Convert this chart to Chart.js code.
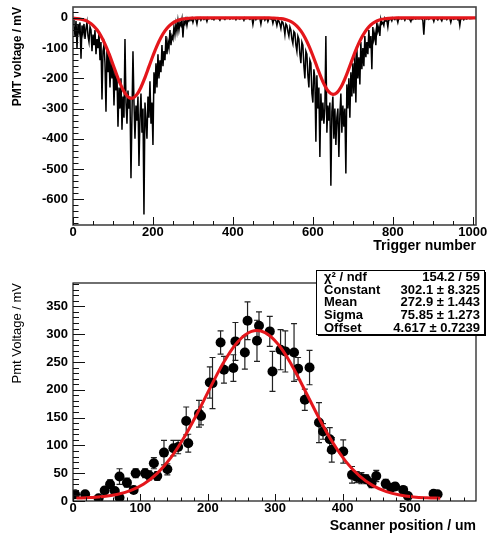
<!DOCTYPE html>
<html>
<head>
<meta charset="utf-8">
<script src="https://cdn.jsdelivr.net/npm/chart.js@4.4.1/dist/chart.umd.min.js"></script>
<style>
  html, body { margin: 0; padding: 0; background: #fff; }
  #wrap { position: relative; width: 488px; height: 535px; }
  canvas { position: absolute; left: 0; }
  #pulse { top: 0; }
  #scan { top: 255px; }
</style>
</head>
<body>
<div id="wrap">
  <canvas id="pulse" width="488" height="255"></canvas>
  <canvas id="scan" width="488" height="280"></canvas>
</div>
<script>
// ---- top panel: PMT voltage per trigger (one sample every 2.5 triggers) ----
const triggerStep = 2.5;
const pmtVoltage = [
  // 0 - 97.5
  -5, -30, -60, -10, -100, -20, -45, -15, -135, -25, -50, -20, -70, -35, -15, -60, -80, -30, -40, -110,
  -55, -90, -40, -120, -70, -100, -50, -140, -80, -270, -110, -90, -150, -310, -100, -180, -120, -230, -140, -200,
  // 100 - 197.5
  -150, -290, -170, -240, -190, -360, -230, -300, -200, -370, -260, -330, -70, -280, -350, -240, -300, -260, -530, -320,
  -110, -280, -400, -290, -340, -260, -490, -330, -250, -380, -300, -650, -280, -340, -400, -260, -330, -210, -350, -280,
  // 200 - 297.5
  -420, -180, -250, -150, -230, -120, -200, -140, -180, -90, -160, -110, -140, -60, -120, -80, -100, -40, -90, -60,
  -70, -30, -55, -20, -45, -10, -40, -15, -25, -5, -65, -10, -20, -5, -25, -3, -10, -2, -8, -1,
  // 300 - 397.5
  -15, -2, 0, -6, -20, -1, -3, 0, -8, -2, 0, -5, -1, -2, -12, 0, -3, -1, 0, -4,
  -1, -6, 0, -2, -1, 0, -3, -8, -1, 0, -2, -1, -5, 0, -2, -1, 0, -4, -1, 0,
  // 400 - 497.5
  -3, 0, -1, -6, 0, -2, -1, -4, 0, -2, -1, -8, 0, -3, -1, 0, -2, -5, -1, 0,
  -22, -2, 0, -6, -1, -3, 0, -2, -20, -1, -3, 0, -8, -2, -1, -12, -3, 0, -4, -2,
  // 500 - 597.5
  -18, -4, -6, -10, -25, -8, -10, -20, -35, -12, -15, -30, -55, -20, -25, -45, -60, -30, -40, -70,
  -85, -45, -50, -90, -110, -60, -70, -120, -150, -80, -90, -160, -200, -110, -120, -190, -230, -140, -150, -250,
  // 600 - 697.5
  -280, -170, -200, -410, -190, -300, -230, -460, -250, -340, -280, -350, -300, -60, -380, -290, -340, -280, -555, -310,
  -260, -400, -300, -420, -330, -300, -460, -320, -250, -380, -290, -360, -300, -515, -220, -300, -200, -330, -180, -260,
  // 700 - 797.5
  -150, -250, -120, -280, -100, -200, -130, -220, -80, -170, -100, -160, -60, -130, -80, -120, -40, -100, -60, -170,
  -30, -70, -50, -90, -15, -45, -30, -60, -5, -20, -15, -25, -2, -10, -8, -30, -3, -6, -2, -10,
  // 800 - 897.5
  0, -3, -6, -1, -2, -15, 0, -3, -1, -4, 0, -2, -8, -1, 0, -3, -2, -6, -12, -1,
  -5, 0, -2, -4, -1, -3, -2, -3, -1, -3, -8, -56, -2, -1, -4, 0, -5, -2, 0, -1,
  // 900 - 997.5
  -2, -12, 0, -1, -3, -7, -1, 0, -4, -10, 0, -2, -3, -1, -6, -1, 0, -2, -15, -1,
  -2, -5, 0, -3, -1, -6, -2, -25, -1, -3, 0, -6, -1, -2, -4, 0, -1, -3, -2, -1,
  // 1000
  -2
];
// double gaussian fit, read every 10 triggers
const fitStep = 10;
const pmtFit = [
  -1.1, -2.2, -4.4, -8.2, -14.6, -24.6, -39.4, -59.9, -86.5, -118.4,
  -154, -190.5, -223.4, -249, -263.6, -265, -253, -229.3, -197.4, -161.3,
  -125.3, -92.3, -64.6, -43, -27.1, -16.3, -9.3, -5, -2.6, -1.3,
  -0.6, 0, 0, 0, 0, 0, 0, 0, 0, 0,
  0, 0, 0, 0, 0, 0, 0, 0, 0, 0,
  -0.5, -1.2, -2.4, -4.8, -9, -16, -27, -42.9, -64.7, -92.5,
  -125.2, -160.6, -195.1, -224.6, -244.9, -253, -247.5, -229.5, -201.5, -167.7,
  -132.2, -98.7, -69.8, -46.8, -29.7, -17.9, -10.2, -5.5, -2.8, -1.4,
  -0.6, 0, 0, 0, 0, 0, 0, 0, 0, 0,
  0, 0, 0, 0, 0, 0, 0, 0, 0, 0,
  0, 0
];
const pulseXTicks = [0, 200, 400, 600, 800, 1000];
const pulseYTicks = [0, -100, -200, -300, -400, -500, -600];

// ---- bottom panel: scan ----
const scanPos = [3, 18, 38, 47, 55, 62, 69, 69, 80, 90, 93, 107, 113, 120, 125, 135, 140, 149, 156, 168,
  171, 187, 190, 203, 207, 219, 224, 238, 241, 255, 259, 273, 276, 292, 296, 308, 315, 328, 334, 344,
  351, 365, 371, 381, 384, 401, 414, 421, 428, 435, 443, 450, 464, 472, 478, 490, 497, 535, 541];
const scanVolt = [12, 12, 5, 19, 30, 18, 44, 6, 33, 20, 50, 50, 46, 68, 45, 87, 57, 95, 97, 144,
  104, 157, 153, 213, 212, 285, 236, 239, 287, 267, 324, 288, 315, 305, 233, 272, 269, 267, 238, 182,
  240, 141, 125, 111, 92, 89, 47, 43, 41, 39, 32, 45, 31, 24, 26, 20, 9, 13, 12];
const scanErr = [4, 4, 4, 6, 8, 6, 14, 4, 8, 6, 8, 8, 8, 10, 8, 22, 10, 14, 12, 25,
  16, 24, 16, 28, 46, 21, 24, 24, 34, 30, 34, 37, 25, 27, 36, 36, 37, 52, 20, 19,
  31, 36, 14, 21, 22, 21, 15, 10, 10, 8, 8, 10, 8, 6, 6, 6, 4, 4, 4];
// gaussian + offset fit, read every 20 um starting at 5 um
const gausStart = 5;
const gausStep = 20;
const gausFit = [5.2, 6.1, 7.9, 11.7, 18.7, 30.7, 49.8, 77.5, 114.5, 159.0, 207.0, 252.1, 287.0, 305.1,
  302.9, 280.9, 243.3, 196.9, 149.2, 106.0, 70.9, 45.1, 27.6, 16.9, 10.7, 7.4, 5.8, 5.1];
const scanXTicks = [0, 100, 200, 300, 400, 500];
const scanYTicks = [0, 50, 100, 150, 200, 250, 300, 350];

const statLabels = ['\u03c7\u00b2 / ndf', 'Constant', 'Mean', 'Sigma', 'Offset'];
const statValues = ['154.2 / 59', '302.1 \u00b1 8.325', '272.9 \u00b1 1.443', '75.85 \u00b1 1.273', '4.617 \u00b1 0.7239'];

const FAMILY = "'Liberation Sans', Arial, Helvetica, sans-serif";
const RED = '#e4161b';

// frame + inward ticks, ROOT style
const rootFrame = {
  id: 'rootFrame',
  afterDatasetsDraw(chart, args, o) {
    const { ctx, chartArea: a, scales: { x, y } } = chart;
    ctx.save();
    ctx.strokeStyle = o.color || '#222';
    ctx.lineWidth = o.width || 1;
    ctx.strokeRect(a.left, a.top, a.right - a.left, a.bottom - a.top);
    ctx.lineWidth = 1;
    ctx.strokeStyle = '#111';
    ctx.beginPath();
    for (let v = Math.ceil(x.min / o.xMinor) * o.xMinor; v <= x.max; v += o.xMinor) {
      const px = Math.round(x.getPixelForValue(v)) + 0.5;
      const len = (Math.abs(v % o.xMajor) < 1e-6) ? o.xLen : o.xLen / 2;
      ctx.moveTo(px, a.bottom);
      ctx.lineTo(px, a.bottom - len);
    }
    for (let v = Math.ceil(y.min / o.yMinor) * o.yMinor; v <= y.max; v += o.yMinor) {
      const py = Math.round(y.getPixelForValue(v)) + 0.5;
      const len = (Math.abs(v % o.yMajor) < 1e-6) ? o.yLen : o.yLen / 2;
      ctx.moveTo(a.left, py);
      ctx.lineTo(a.left + len, py);
    }
    ctx.stroke();
    ctx.restore();
  }
};

const scanErrors = {
  id: 'scanErrors',
  beforeDatasetsDraw(chart) {
    const { ctx, chartArea: a, scales: { x, y } } = chart;
    ctx.save();
    ctx.beginPath();
    ctx.rect(a.left, a.top, a.right - a.left, a.bottom - a.top);
    ctx.clip();
    ctx.strokeStyle = '#222';
    ctx.lineWidth = 1.2;
    ctx.beginPath();
    scanPos.forEach((p, i) => {
      const px = x.getPixelForValue(p);
      const lo = y.getPixelForValue(scanVolt[i] - scanErr[i]);
      const hi = y.getPixelForValue(scanVolt[i] + scanErr[i]);
      ctx.moveTo(px, lo); ctx.lineTo(px, hi);
      ctx.moveTo(px - 3, lo); ctx.lineTo(px + 3, lo);
      ctx.moveTo(px - 3, hi); ctx.lineTo(px + 3, hi);
    });
    ctx.stroke();
    ctx.restore();
  }
};

const statsBox = {
  id: 'statsBox',
  afterDraw(chart) {
    const ctx = chart.ctx;
    const bx = 316, by = 15, bw = 168, bh = 64;
    ctx.save();
    ctx.fillStyle = '#000';
    ctx.fillRect(bx + 2, by + 2, bw, bh);
    ctx.fillStyle = '#fff';
    ctx.fillRect(bx, by, bw, bh);
    ctx.strokeStyle = '#000';
    ctx.lineWidth = 1;
    ctx.strokeRect(bx + 0.5, by + 0.5, bw, bh);
    ctx.fillStyle = '#000';
    ctx.font = 'bold 13px ' + FAMILY;
    ctx.textBaseline = 'middle';
    statLabels.forEach((lab, i) => {
      const ty = by + 7.5 + i * 12.7;
      ctx.textAlign = 'left';
      ctx.fillText(lab, bx + 8, ty);
      ctx.textAlign = 'right';
      ctx.fillText(statValues[i], bx + bw - 4, ty);
    });
    ctx.restore();
  }
};

function tickList(list) {
  return s => { s.ticks = list.map(v => ({ value: v })); };
}
function fitBox(side, size) {
  return s => {
    if (side === 'h') s.height = size; else s.width = size;
    s.paddingLeft = 0; s.paddingRight = 0; s.paddingTop = 0; s.paddingBottom = 0;
  };
}
const tickFont = { family: FAMILY, size: 13, weight: 'bold' };
const noGrid = { display: false, drawTicks: false };

new Chart(document.getElementById('pulse'), {
  type: 'line',
  data: {
    datasets: [{
      data: pmtFit.map((v, i) => ({ x: i * fitStep, y: v })),
      borderColor: RED, borderWidth: 3.2, pointRadius: 0, tension: 0.4, order: 0
    }, {
      data: pmtVoltage.map((v, i) => ({ x: i * triggerStep, y: v })),
      borderColor: '#000', borderWidth: 1.5, pointRadius: 0, tension: 0, order: 1
    }]
  },
  options: {
    responsive: false,
    animation: false,
    layout: { padding: { top: 7, right: 12, left: 0, bottom: 0 } },
    plugins: {
      legend: { display: false },
      tooltip: { enabled: false },
      rootFrame: { color: '#444', width: 1.6, xMinor: 50, xMajor: 200, xLen: 8, yMinor: 20, yMajor: 100, yLen: 11 }
    },
    scales: {
      x: {
        type: 'linear', min: 0, max: 1008,
        afterBuildTicks: tickList(pulseXTicks),
        afterFit: fitBox('h', 30),
        grid: noGrid, border: { display: false },
        ticks: { font: tickFont, color: '#000', padding: 0, maxRotation: 0, autoSkip: false, callback: v => String(v) },
        title: { display: true, text: 'Trigger number', align: 'end', color: '#000', padding: 0,
                 font: { family: FAMILY, size: 14, weight: 'bold' } }
      },
      y: {
        type: 'linear', min: -685, max: 36,
        afterBuildTicks: tickList(pulseYTicks),
        afterFit: fitBox('w', 73),
        grid: noGrid, border: { display: false },
        ticks: { font: tickFont, color: '#000', padding: 5, autoSkip: false, callback: v => String(v) },
        title: { display: true, text: 'PMT voltage / mV', align: 'end', color: '#000', padding: { top: 10, bottom: 0 },
                 font: { family: FAMILY, size: 12, weight: 'bold' } }
      }
    }
  },
  plugins: [rootFrame]
});

new Chart(document.getElementById('scan'), {
  type: 'line',
  data: {
    datasets: [{
      data: gausFit.map((v, i) => ({ x: gausStart + i * gausStep, y: v })),
      borderColor: RED, borderWidth: 3, pointRadius: 0, tension: 0.4, order: 0
    }, {
      data: scanPos.map((p, i) => ({ x: p, y: scanVolt[i] })),
      showLine: false, pointRadius: 5, pointBackgroundColor: '#000', pointBorderColor: '#000',
      pointBorderWidth: 0, order: 1
    }]
  },
  options: {
    responsive: false,
    animation: false,
    layout: { padding: { top: 28, right: 12, left: 0, bottom: 0 } },
    plugins: {
      legend: { display: false },
      tooltip: { enabled: false },
      rootFrame: { color: '#111', width: 1.2, xMinor: 20, xMajor: 100, xLen: 7, yMinor: 10, yMajor: 50, yLen: 12 }
    },
    scales: {
      x: {
        type: 'linear', min: 0, max: 598,
        afterBuildTicks: tickList(scanXTicks),
        afterFit: fitBox('h', 34),
        grid: noGrid, border: { display: false },
        ticks: { font: tickFont, color: '#000', padding: 0, maxRotation: 0, autoSkip: false, callback: v => String(v) },
        title: { display: true, text: 'Scanner position / um', align: 'end', color: '#000', padding: 0,
                 font: { family: FAMILY, size: 14, weight: 'bold' } }
      },
      y: {
        type: 'linear', min: 0, max: 392,
        afterBuildTicks: tickList(scanYTicks),
        afterFit: fitBox('w', 73),
        grid: noGrid, border: { display: false },
        ticks: { font: tickFont, color: '#000', padding: 5, autoSkip: false, callback: v => String(v) },
        title: { display: true, text: 'Pmt Voltage / mV', align: 'end', color: '#000', padding: { top: 10, bottom: 0 },
                 font: { family: FAMILY, size: 13 } }
      }
    }
  },
  plugins: [scanErrors, rootFrame, statsBox]
});
</script>
</body>
</html>
